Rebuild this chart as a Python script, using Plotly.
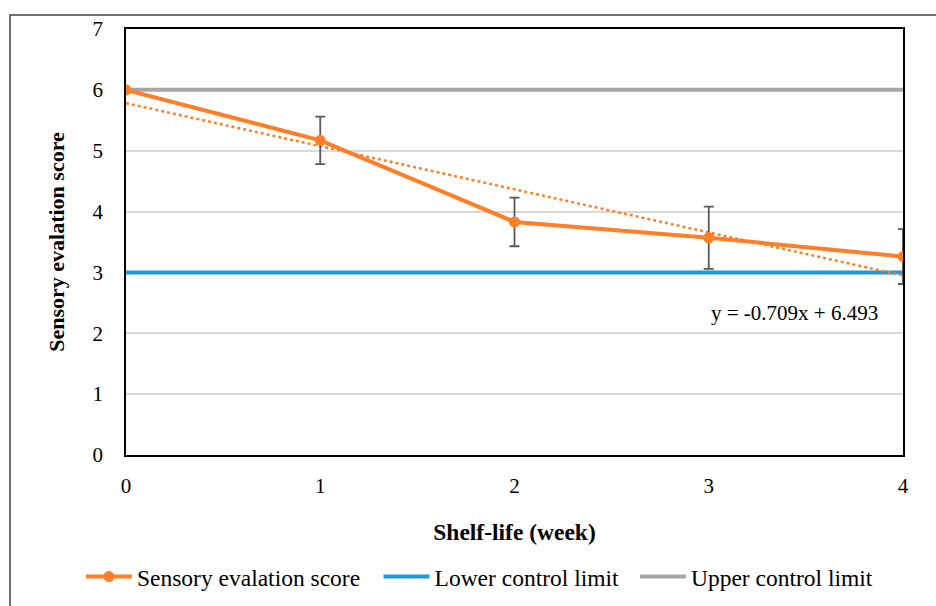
import plotly.graph_objects as go
import numpy as np

weeks = [0, 1, 2, 3, 4]
scores = [6.00, 5.17, 3.83, 3.57, 3.26]
errors = [0.0, 0.39, 0.40, 0.51, 0.45]
lower_limit = [3, 3, 3, 3, 3]
upper_limit = [6, 6, 6, 6, 6]
y_ticks = [0, 1, 2, 3, 4, 5, 6, 7]
x_ticks = [0, 1, 2, 3, 4]
trend_label = "y = -0.709x + 6.493"

slope, intercept = np.polyfit(weeks, scores, 1)
trend = [slope * w + intercept for w in weeks]

FONT = "Liberation Serif"
ORANGE = "#FF7F27"
BLUE = "#1E9AD6"
GRAY = "#A6A6A6"

fig = go.Figure()
fig.add_trace(go.Scatter(x=weeks, y=lower_limit, mode="lines", name="Lower control limit",
                         line=dict(color=BLUE, width=4), legend="legend2"))
fig.add_trace(go.Scatter(x=weeks, y=upper_limit, mode="lines", name="Upper control limit",
                         line=dict(color=GRAY, width=4), legend="legend3"))
fig.add_trace(go.Scatter(x=weeks, y=trend, mode="lines", showlegend=False,
                         line=dict(color=ORANGE, width=2.5, dash="dot")))
fig.add_trace(go.Scatter(x=weeks, y=scores, mode="lines+markers", name="Sensory evalation score",
                         line=dict(color=ORANGE, width=4), marker=dict(color=ORANGE, size=11),
                         error_y=dict(type="data", array=errors, color="#595959", thickness=1.8, width=5),
                         legend="legend", cliponaxis=True))

fig.add_annotation(x=3.44, y=2.33, text=trend_label, showarrow=False,
                   font=dict(family=FONT, size=21, color="#000"))

# outer frame
fig.add_shape(type="rect", xref="paper", yref="paper", x0=-0.1493, y0=-0.6, x1=1.2, y1=1.0329,
              line=dict(color="#444", width=1.5), layer="below")

def leg(x):
    return dict(orientation="h", x=x, xanchor="left", y=-0.286, yanchor="middle",
                font=dict(family=FONT, size=23.5), itemwidth=46, bgcolor="rgba(0,0,0,0)")

fig.update_layout(
    width=936, height=606,
    margin=dict(l=126, r=33, t=29, b=151, autoexpand=False),
    paper_bgcolor="white", plot_bgcolor="white",
    font=dict(family=FONT, size=21, color="#000"),
    showlegend=True,
    legend=leg(-0.058),
    legend2=leg(0.325),
    legend3=leg(0.655),
    xaxis=dict(range=[0, 4], tickvals=x_ticks, showgrid=False, zeroline=False,
               showline=True, linecolor="#000", linewidth=1.5, mirror=True,
               ticks="outside", ticklen=11, tickcolor="rgba(0,0,0,0)",
               tickfont=dict(family=FONT, size=21),
               title=dict(text="<b>Shelf-life (week)</b>", font=dict(family=FONT, size=23.5), standoff=27)),
    yaxis=dict(range=[0, 7], tickvals=y_ticks, showgrid=True, gridcolor="#D9D9D9", gridwidth=1.5,
               zeroline=False, showline=True, linecolor="#000", linewidth=1.5, mirror=True,
               ticks="outside", ticklen=17, tickcolor="rgba(0,0,0,0)",
               tickfont=dict(family=FONT, size=21),
               title=dict(text="<b>Sensory evalation score</b>", font=dict(family=FONT, size=22), standoff=22)),
)

fig.write_html("out.html")
